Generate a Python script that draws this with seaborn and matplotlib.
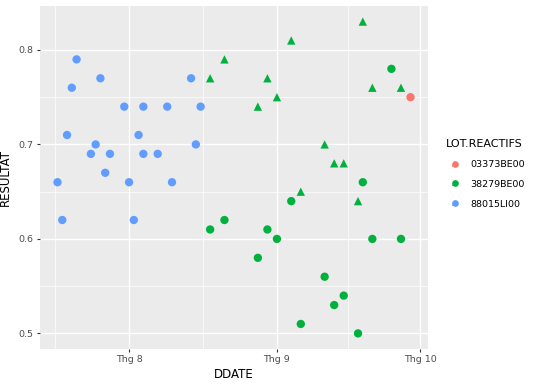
import matplotlib
matplotlib.use("Agg")
import matplotlib.pyplot as plt
from matplotlib.lines import Line2D
from matplotlib.legend_handler import HandlerTuple
import seaborn as sns
import pandas as pd

# ---- data ----
blue_dates = ["2017-07-17", "2017-07-18", "2017-07-19", "2017-07-20", "2017-07-21",
              "2017-07-24", "2017-07-25", "2017-07-26", "2017-07-27", "2017-07-28",
              "2017-07-31", "2017-08-01", "2017-08-02", "2017-08-03", "2017-08-04",
              "2017-08-04", "2017-08-07", "2017-08-09", "2017-08-10", "2017-08-14",
              "2017-08-15", "2017-08-16"]
blue_vals = [0.66, 0.62, 0.71, 0.76, 0.79, 0.69, 0.70, 0.77, 0.67, 0.69,
             0.74, 0.66, 0.62, 0.71, 0.74, 0.69, 0.69, 0.74, 0.66, 0.77,
             0.70, 0.74]
blue_shape = ["c"] * len(blue_vals)

green_dates = ["2017-08-18", "2017-08-21", "2017-08-28", "2017-08-30", "2017-09-01",
               "2017-09-04", "2017-09-06", "2017-09-11", "2017-09-13", "2017-09-15",
               "2017-09-18", "2017-09-19", "2017-09-21", "2017-09-27",
               "2017-08-18", "2017-08-21", "2017-08-28", "2017-08-30", "2017-09-01",
               "2017-09-04", "2017-09-06", "2017-09-11", "2017-09-13", "2017-09-15",
               "2017-09-18", "2017-09-19", "2017-09-21", "2017-09-25", "2017-09-27"]
green_vals = [0.77, 0.79, 0.74, 0.77, 0.75, 0.81, 0.65, 0.70, 0.68, 0.68,
              0.64, 0.83, 0.76, 0.76,
              0.61, 0.62, 0.58, 0.61, 0.60, 0.64, 0.51, 0.56, 0.53, 0.54,
              0.50, 0.66, 0.60, 0.78, 0.60]
green_shape = ["t"] * 14 + ["c"] * 15

red_dates = ["2017-09-29"]
red_vals = [0.75]
red_shape = ["c"]

lots = ["03373BE00", "38279BE00", "88015LI00"]
colors = ["#F8766D", "#00B13E", "#619CFF"]
x_ticks = ["2017-08-01", "2017-09-01", "2017-10-01"]
x_labels = ["Thg 8", "Thg 9", "Thg 10"]
x_minor = ["2017-07-16 12:00", "2017-08-16 12:00", "2017-09-16 00:00"]

df = pd.DataFrame({
    "DDATE": pd.to_datetime(red_dates + green_dates + blue_dates),
    "RESULTAT": red_vals + green_vals + blue_vals,
    "LOT.REACTIFS": [lots[0]] * len(red_vals) + [lots[1]] * len(green_vals) + [lots[2]] * len(blue_vals),
    "SHAPE": red_shape + green_shape + blue_shape,
})

# ---- figure ----
fig = plt.figure(figsize=(5.4, 3.86), dpi=100)
ax = fig.add_axes([40 / 540, 37 / 386, 388 / 540, 343 / 386])
ax.set_facecolor("#EBEBEB")
for s in ax.spines.values():
    s.set_visible(False)

sns.scatterplot(data=df, x="DDATE", y="RESULTAT", hue="LOT.REACTIFS", style="SHAPE",
                hue_order=lots, palette=colors, markers={"c": "o", "t": "^"},
                style_order=["c", "t"], s=36, linewidth=0, legend=False, ax=ax, zorder=3)

ax.set_xlim(pd.Timestamp("2017-07-13 08:00"), pd.Timestamp("2017-10-02 16:00"))
ax.set_ylim(0.4835, 0.8465)
ax.set_xticks(pd.to_datetime(x_ticks))
ax.set_xticklabels(x_labels)
ax.set_xticks(pd.to_datetime(x_minor, format="%Y-%m-%d %H:%M"), minor=True)
ax.set_yticks([0.5, 0.6, 0.7, 0.8])
ax.set_yticklabels(["0.5", "0.6", "0.7", "0.8"])
ax.set_yticks([0.55, 0.65, 0.75], minor=True)

ax.grid(which="major", color="white", linewidth=1.0, zorder=0)
ax.grid(which="minor", color="white", linewidth=0.5, zorder=0)
ax.set_axisbelow(True)
ax.tick_params(which="major", length=2.5, width=0.8, color="#333333",
               labelsize=6.8, labelcolor="#4D4D4D", pad=2)
ax.tick_params(which="minor", length=0)

ax.set_xlabel("DDATE", fontsize=8.5, color="black", labelpad=3)
ax.set_ylabel("RESULTAT", fontsize=8.5, color="black", labelpad=5)

handles = []
for c in colors:
    h1 = Line2D([], [], marker="o", linestyle="", markersize=4.8, markerfacecolor=c, markeredgewidth=0)
    h2 = Line2D([], [], marker="^", linestyle="", markersize=4.8, markerfacecolor=c, markeredgewidth=0)
    handles.append((h1, h2))
leg = fig.legend(handles, lots, title="LOT.REACTIFS", loc="upper left",
                 bbox_to_anchor=(446 / 540, 1 - 139 / 386),
                 handler_map={tuple: HandlerTuple(ndivide=None, pad=-2.0)},
                 frameon=False, fontsize=6.8, title_fontsize=8,
                 handlelength=2.0, handletextpad=0.6, labelspacing=1.15,
                 alignment="left", borderaxespad=0, borderpad=0)

fig.savefig("out.png", dpi=100)
